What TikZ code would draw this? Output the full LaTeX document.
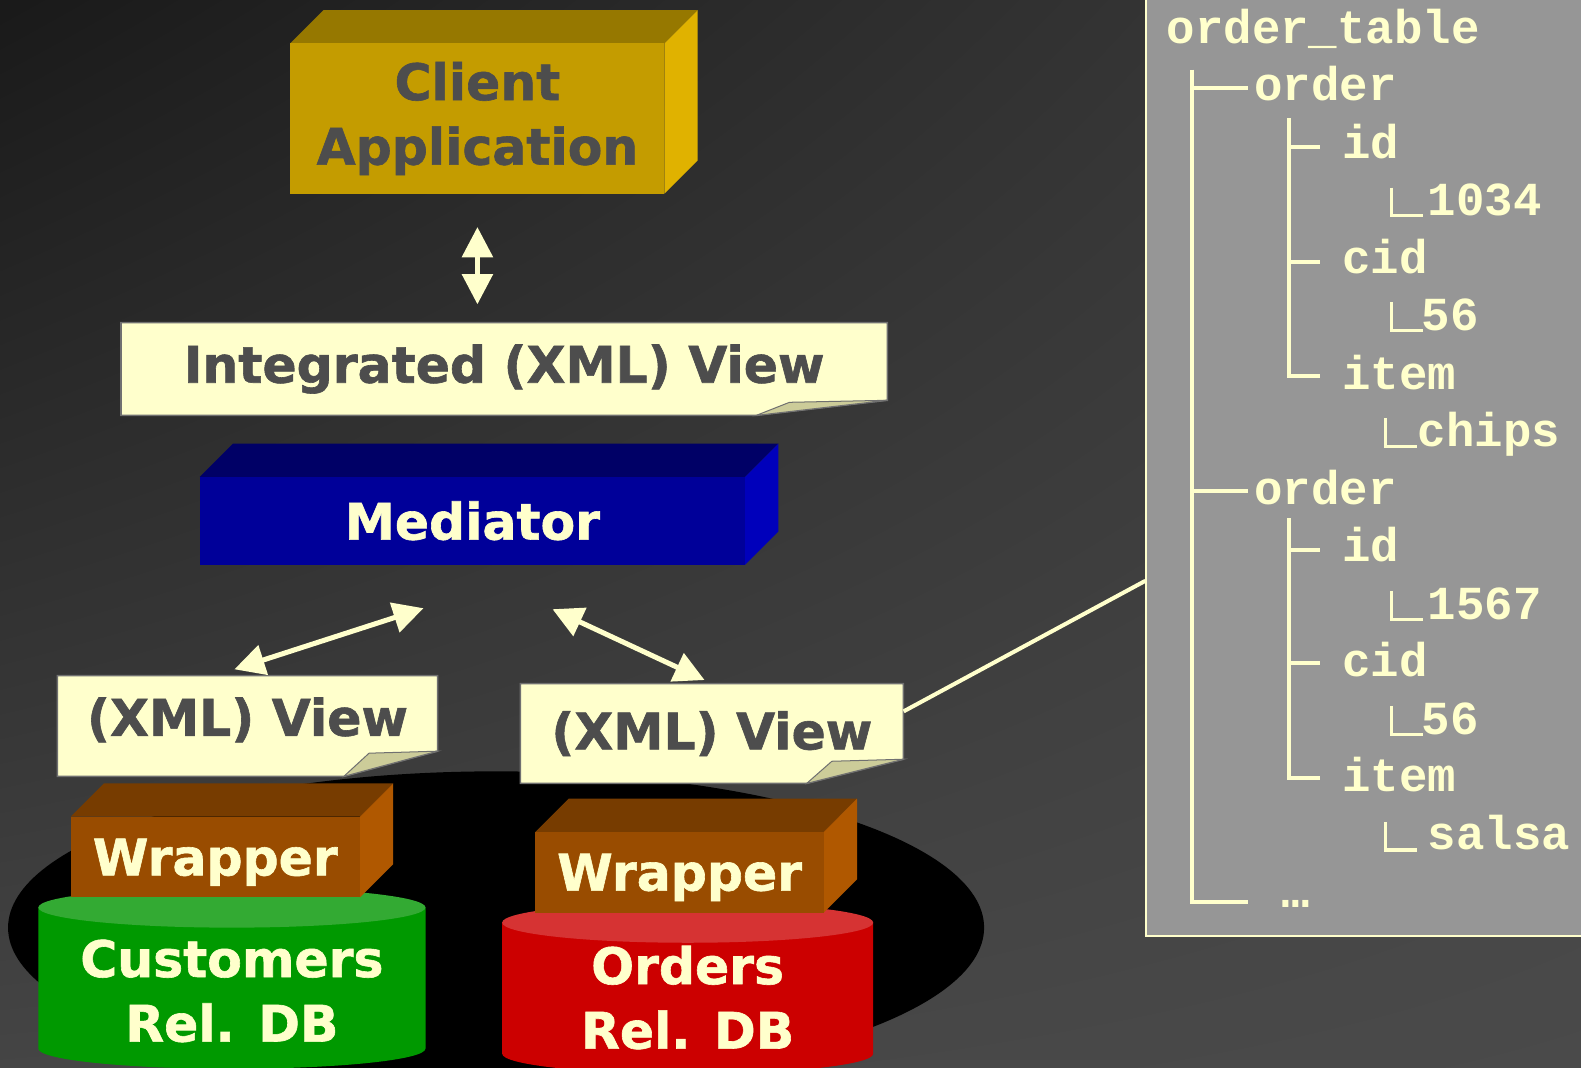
\documentclass[tikz,border=0pt]{standalone}
\usepackage{fontspec}
\setmainfont{DejaVu Sans}[BoldFeatures={FakeBold=1.2}]
\newfontfamily\treefont{Liberation Mono}
\usetikzlibrary{arrows.meta,shadings}

\definecolor{paper}{HTML}{FFFFCC}
\definecolor{flapcol}{HTML}{CCCC99}
\definecolor{notegray}{HTML}{707070}
\definecolor{txtgray}{HTML}{4D4D4D}
\definecolor{clientfront}{HTML}{C49C00}
\definecolor{clienttop}{HTML}{967800}
\definecolor{clientside}{HTML}{E0B200}
\definecolor{medfront}{HTML}{000099}
\definecolor{medtop}{HTML}{000066}
\definecolor{medside}{HTML}{0000BB}
\definecolor{wrapfront}{HTML}{994C00}
\definecolor{wraptop}{HTML}{773C00}
\definecolor{wrapside}{HTML}{B05800}
\definecolor{custbody}{HTML}{009900}
\definecolor{custtop}{HTML}{33AA33}
\definecolor{ordbody}{HTML}{CC0000}
\definecolor{ordtop}{HTML}{D63333}
\definecolor{panelgray}{HTML}{969696}

\begin{document}
\begin{tikzpicture}[x=1pt,y=-1pt,
  bigtxt/.style={font=\bfseries\fontsize{50}{64}\selectfont, inner sep=0pt, align=center},
  boxface/.style={bigtxt, anchor=center, minimum width=#1, minimum height=80pt},
  treetxt/.style={font=\treefont\bfseries\fontsize{47}{50}\selectfont, text=paper, inner sep=0pt, anchor=base west},
  treeline/.style={draw=paper, line width=4pt},
  leafline/.style={draw=paper, line width=3pt},
  twoway/.style={draw=paper, line width=5pt, {Triangle[width=30pt,length=30pt]}-{Triangle[width=30pt,length=30pt]}},
  note/.style={fill=paper, draw=notegray, line width=1.5pt},
  flap/.style={fill=flapcol, draw=notegray, line width=1pt}]
\useasboundingbox (0,0) rectangle (1568,1059);
\shade[upper left=black!90, upper right=black!76, lower left=black!73, lower right=black!71] (0,0) rectangle (1568,1059);

% tree panel
\node[fill=panelgray, draw=paper, line width=2pt, inner sep=0pt, anchor=north west,
  minimum width=450pt, minimum height=940pt] (panel) at (1136,-13) {};
\node[treetxt] (ordtab) at (1157,43) {order\_table};
\node[treetxt] (ordA) at (1244,100) {order};
\node[treetxt] (idA) at (1331,157) {id};
\node[treetxt] (idvA) at (1416,214) {1034};
\node[treetxt] (cidA) at (1331,271) {cid};
\node[treetxt] (cidvA) at (1410,328) {56};
\node[treetxt] (itemA) at (1331,386) {item};
\node[treetxt] (itemvA) at (1406,443) {chips};
\node[treetxt] (ordB) at (1244,500) {order};
\node[treetxt] (idB) at (1331,557) {id};
\node[treetxt] (idvB) at (1416,614) {1567};
\node[treetxt] (cidB) at (1331,671) {cid};
\node[treetxt] (cidvB) at (1410,728) {56};
\node[treetxt] (itemB) at (1331,785) {item};
\node[treetxt] (itemvB) at (1416,843) {salsa};
\node[treetxt] (more) at (1271,900) {…};
\draw[treeline] (1182,69) -- (1182,895) -- (1238,895);
\draw[treeline] (1182,87) -- (1238,87);
\draw[treeline] (1182,487) -- (1238,487);
\draw[treeline] (1278,117) -- (1278,373) -- (1309,373);
\draw[treeline] (1278,146) -- (1309,146);
\draw[treeline] (1278,260) -- (1309,260);
\draw[treeline] (1278,514) -- (1278,772) -- (1309,772);
\draw[treeline] (1278,545) -- (1309,545);
\draw[treeline] (1278,658) -- (1309,658);
\foreach \lx/\ly in {1380/214, 1380/328, 1374/443, 1380/614, 1380/728, 1374/843}
  \draw[leafline] (\lx,\ly-28) -- (\lx,\ly) -- (\lx+31,\ly);

% black shadow
\fill[black] (492,920) ellipse [x radius=484, y radius=155];

% client application
\fill[clienttop] (288,43) -- (321,10) -- (692,10) -- (659,43) -- cycle;
\fill[clientside] (659,43) -- (692,10) -- (692,159) -- (659,192) -- cycle;
\node[boxface=371pt, minimum height=149pt, fill=clientfront, text=txtgray] (client) at (473.5,117.5) {Client\\Application};

% integrated view
\filldraw[note] (120,320) -- (880,320) -- (880,397) -- (750,412) -- (120,412) -- cycle;
\filldraw[flap] (750,412) -- (783,399) -- (880,397) -- cycle;
\node[bigtxt, text=txtgray, minimum width=760pt, minimum height=92pt] (intview) at (500,366) {Integrated (XML) View};
\draw[twoway, shorten <=33pt, shorten >=18pt] (client.south) -- (client.south |- intview.north);

% mediator
\fill[medtop] (198,473) -- (231,440) -- (772,440) -- (739,473) -- cycle;
\fill[medside] (739,473) -- (772,440) -- (772,527) -- (739,560) -- cycle;
\node[boxface=541pt, minimum height=87pt, fill=medfront, text=paper] (mediator) at (468.5,516.5) {Mediator};

% customers source
\fill[custbody] (38,900) -- (38,1040) arc[start angle=180, end angle=0, x radius=192, y radius=20] -- (422,900) -- cycle;
\fill[custtop] (230,900) ellipse [x radius=192, y radius=20];
\node[bigtxt, anchor=base, text=paper] (custdb) at (230,1033) {Customers\\Rel. DB};
\fill[wraptop] (70,810) -- (103,777) -- (390,777) -- (357,810) -- cycle;
\fill[wrapside] (357,810) -- (390,777) -- (390,857) -- (357,890) -- cycle;
\node[boxface=287pt, text depth=0pt, fill=wrapfront, text=paper] (wrapL) at (213.5,850) {Wrapper};

% orders source
\fill[ordbody] (498,915) -- (498,1045) arc[start angle=180, end angle=0, x radius=184, y radius=20] -- (866,915) -- cycle;
\fill[ordtop] (682,915) ellipse [x radius=184, y radius=20];
\node[bigtxt, anchor=base, text=paper] (orddb) at (682,1040) {Orders\\Rel. DB};
\fill[wraptop] (531,825) -- (564,792) -- (850,792) -- (817,825) -- cycle;
\fill[wrapside] (817,825) -- (850,792) -- (850,872) -- (817,905) -- cycle;
\node[boxface=286pt, text depth=0pt, fill=wrapfront, text=paper] (wrapR) at (674,865) {Wrapper};

% source views
\filldraw[note] (57,670) -- (434,670) -- (434,745) -- (341,770) -- (57,770) -- cycle;
\filldraw[flap] (341,770) -- (366,747) -- (434,745) -- cycle;
\node[bigtxt, text=txtgray, minimum width=377pt, minimum height=100pt, yshift=6pt] (lview) at (245.5,720) {(XML) View};
\filldraw[note] (516,678) -- (896,678) -- (896,753) -- (800,777) -- (516,777) -- cycle;
\filldraw[flap] (800,777) -- (825,755) -- (896,753) -- cycle;
\node[bigtxt, text=txtgray, minimum width=380pt, minimum height=99pt] (rview) at (706,727.5) {(XML) View};

\draw[twoway] ([xshift=-13pt]lview.north) -- ([xshift=-48.5pt,yshift=-43pt]mediator.south);
\draw[twoway, shorten >=8pt] ([xshift=79.5pt,yshift=-44pt]mediator.south) -- (rview.north);
\draw[draw=paper, line width=4pt] ([yshift=22pt]rview.east) -- ([yshift=-118pt]panel.west);
\end{tikzpicture}
\end{document}
